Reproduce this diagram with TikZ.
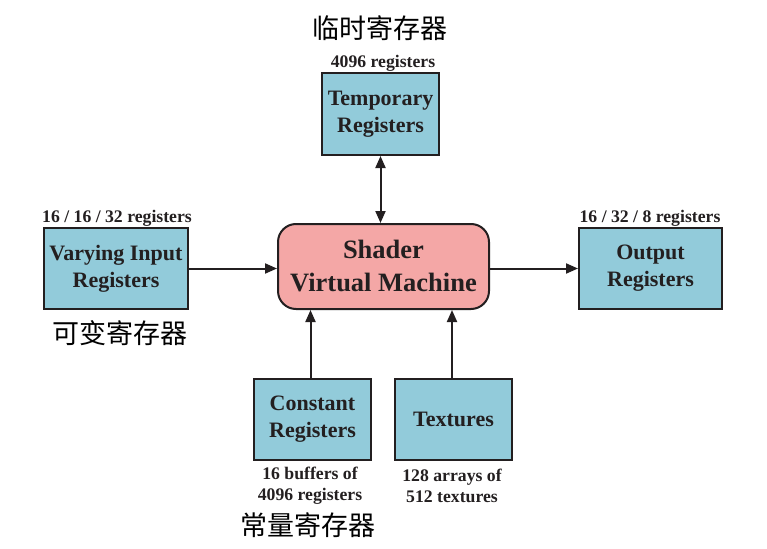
\documentclass[tikz,border=0pt]{standalone}
\usepackage{fontspec}
\setmainfont{Liberation Serif}
\newfontfamily\cjk{Noto Sans CJK SC}
\usetikzlibrary{arrows.meta}
\definecolor{boxblue}{HTML}{92CBDA}
\definecolor{shpink}{HTML}{F4A7A6}
\definecolor{ink}{HTML}{231F20}
\tikzset{
  reg/.style={draw=ink, line width=2pt, fill=boxblue, inner sep=0pt, align=center,
    text=ink, font=\fontsize{22}{27}\selectfont\bfseries},
  shaderbox/.style={draw=ink, line width=2pt, fill=shpink, rounded corners=18pt,
    inner sep=0pt, align=center, text=ink, font=\fontsize{26.5}{33}\selectfont\bfseries},
  lbl/.style={text=ink, font=\fontsize{17.7}{21}\selectfont\bfseries, inner sep=0pt, align=center},
  cn/.style={font=\cjk\fontsize{27}{30}\selectfont, inner sep=0pt, text=black},
  tip/.tip={Triangle[length=12pt,width=10pt]},
  conn/.style={draw=ink, line width=2pt, -tip},
  bconn/.style={draw=ink, line width=2pt, tip-tip}
}
\begin{document}
\begin{tikzpicture}[x=1pt,y=-1pt]
\useasboundingbox (0,0) rectangle (767,548);
% boxes
\node[shaderbox, minimum width=211pt, minimum height=85pt] (shader) at (383.5,266.5) {Shader\\Virtual Machine};
\node[reg, minimum width=117pt, minimum height=82pt] (temp) at (380.5,114) {Temporary\\Registers};
\node[reg, minimum width=144pt, minimum height=81pt] (vary) at (116,268.5) {Varying Input\\Registers};
\node[reg, minimum width=143pt, minimum height=81pt] (out) at (650.5,268.5) {Output\\Registers};
\node[reg, minimum width=117pt, minimum height=81pt] (const) at (312.5,419.5) {Constant\\Registers};
\node[reg, minimum width=117pt, minimum height=81pt] (tex) at (453.5,419.5) {Textures};
% labels
\node[lbl, anchor=base] (templbl) at (383,68) {4096 registers};
\node[lbl, anchor=base] (varylbl) at (117,222) {16 / 16 / 32 registers};
\node[lbl, anchor=base] (outlbl) at (650,222) {16 / 32 / 8 registers};
\node[lbl] (constlbl) at (310,486) {16 buffers of\\4096 registers};
\node[lbl] (texlbl) at (452,486) {128 arrays of\\512 textures};
% chinese
\node[cn] (tempcn) at (380,28) {临时寄存器};
\node[cn] (varycn) at (120,333) {可变寄存器};
\node[cn] (constcn) at (308,525) {常量寄存器};
% connectors
\draw[bconn] (temp.south) -- (temp.south |- shader.north);
\draw[conn] (vary.east) -- (vary.east -| shader.west);
\draw[conn] (shader.east |- out.west) -- (out.west);
\draw[conn] (const.north -| 310.5,0) -- (310.5,0 |- shader.south);
\draw[conn] (tex.north -| 452,0) -- (452,0 |- shader.south);
\end{tikzpicture}
\end{document}
